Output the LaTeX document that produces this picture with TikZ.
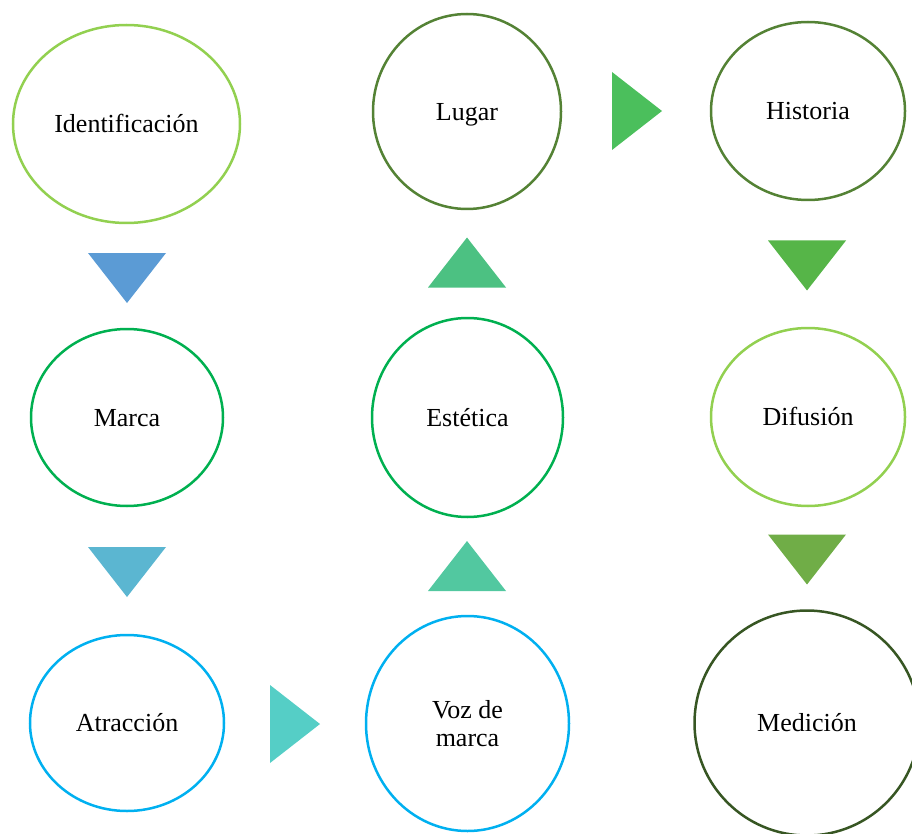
\documentclass[tikz,border=0pt]{standalone}
\usepackage{fontspec}
\setmainfont{Liberation Serif}
\usetikzlibrary{shapes.geometric}
\definecolor{lgreen}{HTML}{92D050}
\definecolor{dgreen}{HTML}{548235}
\definecolor{mgreen}{HTML}{00B050}
\definecolor{cblue}{HTML}{00B0F0}
\definecolor{vdgreen}{HTML}{375623}
\definecolor{tA}{HTML}{5B9BD5}
\definecolor{tB}{HTML}{5BB6D1}
\definecolor{tC}{HTML}{55CEC6}
\definecolor{tD}{HTML}{52C8A0}
\definecolor{tE}{HTML}{4CC182}
\definecolor{tF}{HTML}{4BBF5C}
\definecolor{tG}{HTML}{56B548}
\definecolor{tH}{HTML}{70AD47}
\newcommand\tridown[3]{\fill[#3] (#1-39,#2-25) -- (#1+39,#2-25) -- (#1,#2+25) -- cycle;}
\newcommand\triup[3]{\fill[#3] (#1-39,#2+25) -- (#1+39,#2+25) -- (#1,#2-25) -- cycle;}
\newcommand\triright[3]{\fill[#3] (#1-25,#2-39) -- (#1-25,#2+39) -- (#1+25,#2) -- cycle;}
\begin{document}
\begin{tikzpicture}[x=1pt,y=-1pt,
  stage/.style={ellipse, draw, line width=2.5pt, inner sep=0pt, align=center,
    font=\fontsize{26}{28}\selectfont, text=black, text height=17.2pt, text depth=0pt}]
\useasboundingbox (0,0) rectangle (912,834);
\clip (0,0) rectangle (912,834);
\node[stage, draw=lgreen, minimum width=227pt, minimum height=198pt] (ident) at (126.5,124) {Identificación};
\node[stage, draw=dgreen, minimum width=188pt, minimum height=195pt] (lugar) at (467,111.5) {Lugar};
\node[stage, draw=dgreen, minimum width=194pt, minimum height=178pt] (hist) at (808,111) {Historia};
\node[stage, draw=mgreen, minimum width=192pt, minimum height=177pt] (marca) at (127,417.5) {Marca};
\node[stage, draw=mgreen, minimum width=191pt, minimum height=199pt] (estet) at (467.5,417.5) {Estética};
\node[stage, draw=lgreen, minimum width=194pt, minimum height=178pt] (difus) at (808,417) {Difusión};
\node[stage, draw=cblue, minimum width=194pt, minimum height=176pt] (atrac) at (127,723) {Atracción};
\node[stage, draw=cblue, minimum width=203pt, minimum height=215pt, text height=45.2pt] (voz) at (467.5,723.5) {Voz de\\marca};
\node[stage, draw=vdgreen, minimum width=225pt, minimum height=225pt] (medic) at (807,723) {Medición};
\tridown{127}{278}{tA}
\tridown{127}{572}{tB}
\triright{295}{724}{tC}
\triup{467}{566}{tD}
\triup{467}{262.5}{tE}
\triright{637}{111}{tF}
\tridown{807}{265.5}{tG}
\tridown{807}{559.5}{tH}
\end{tikzpicture}
\end{document}
